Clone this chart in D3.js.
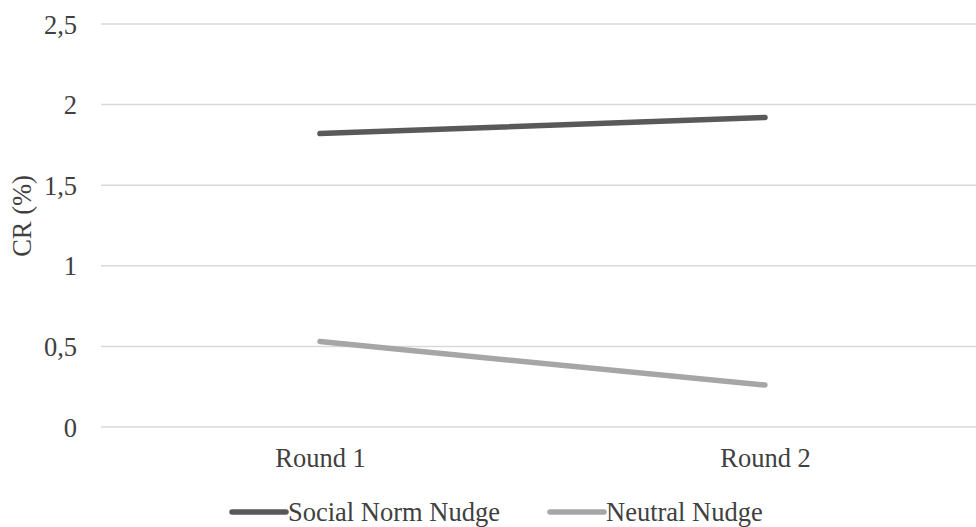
<!DOCTYPE html>
<html>
<head>
<meta charset="utf-8">
<script src="https://cdn.jsdelivr.net/npm/d3@7/dist/d3.min.js"></script>
<style>
  html, body { margin: 0; padding: 0; background: #fff; }
  svg { display: block; }
</style>
</head>
<body>
<svg id="chart" width="976" height="527"></svg>
<script>
// Conversion rate by round for the two nudge conditions
const categories = ["Round 1", "Round 2"];
const seriesNames = ["Social Norm Nudge", "Neutral Nudge"];
const socialNorm = [1.82, 1.92];
const neutral = [0.53, 0.26];
const yTicks = [0, 0.5, 1, 1.5, 2, 2.5];
const yTickLabels = ["0", "0,5", "1", "1,5", "2", "2,5"];
const yLabel = "CR (%)";

const series = [
  { name: seriesNames[0], values: socialNorm, color: "#595959" },
  { name: seriesNames[1], values: neutral, color: "#a6a6a6" }
];

const W = 976, H = 527;
const FONT = "Liberation Serif";
const fontSize = 26.5;
const textColor = "#404040";
const svg = d3.select("#chart");

function styleText(sel) {
  sel.style("font-family", FONT)
     .style("font-size", fontSize + "px")
     .style("fill", textColor);
}

const x = d3.scalePoint().domain(categories).range([97.5, 987.5]).padding(0.5);
const y = d3.scaleLinear().domain([0, 2.5]).range([427, 24]);

// horizontal gridlines
svg.append("g").selectAll("line").data(yTicks).join("line")
  .attr("x1", 101).attr("x2", W)
  .attr("y1", d => y(d)).attr("y2", d => y(d))
  .attr("stroke", "#d9d9d9").attr("stroke-width", 1.5);

// y axis tick labels
const yAxis = d3.axisLeft(y).tickValues(yTicks)
  .tickFormat((d, i) => yTickLabels[i]).tickSize(0).tickPadding(0);
const gy = svg.append("g").attr("transform", "translate(77,0)").call(yAxis);
gy.select(".domain").remove();
gy.selectAll("text").attr("dy", "0.34em").call(styleText);

// x axis category labels
const xAxis = d3.axisBottom(x).tickSize(0).tickPadding(0);
const gx = svg.append("g").attr("transform", "translate(0,467)").call(xAxis);
gx.select(".domain").remove();
gx.selectAll("text").attr("dy", "0").call(styleText);

// y axis title
svg.append("text")
  .attr("transform", "translate(31,216) rotate(-90)")
  .attr("text-anchor", "middle")
  .call(styleText)
  .text(yLabel);

// series lines
const line = d3.line().x((d, i) => x(categories[i])).y(d => y(d));
svg.append("g").selectAll("path").data(series).join("path")
  .attr("d", d => line(d.values))
  .attr("fill", "none")
  .attr("stroke", d => d.color)
  .attr("stroke-width", 5.5)
  .attr("stroke-linecap", "round");

// legend
const legendX = [232, 550];
const legendY = 512;
const lg = svg.append("g").selectAll("g").data(series).join("g")
  .attr("transform", (d, i) => `translate(${legendX[i]},${legendY})`);
lg.append("line").attr("x1", 0).attr("x2", 54).attr("y1", 0).attr("y2", 0)
  .attr("stroke", d => d.color).attr("stroke-width", 5.5).attr("stroke-linecap", "round");
lg.append("text").attr("x", 56).attr("y", 0).attr("dy", "0.34em")
  .call(styleText)
  .text(d => d.name);
</script>
</body>
</html>
